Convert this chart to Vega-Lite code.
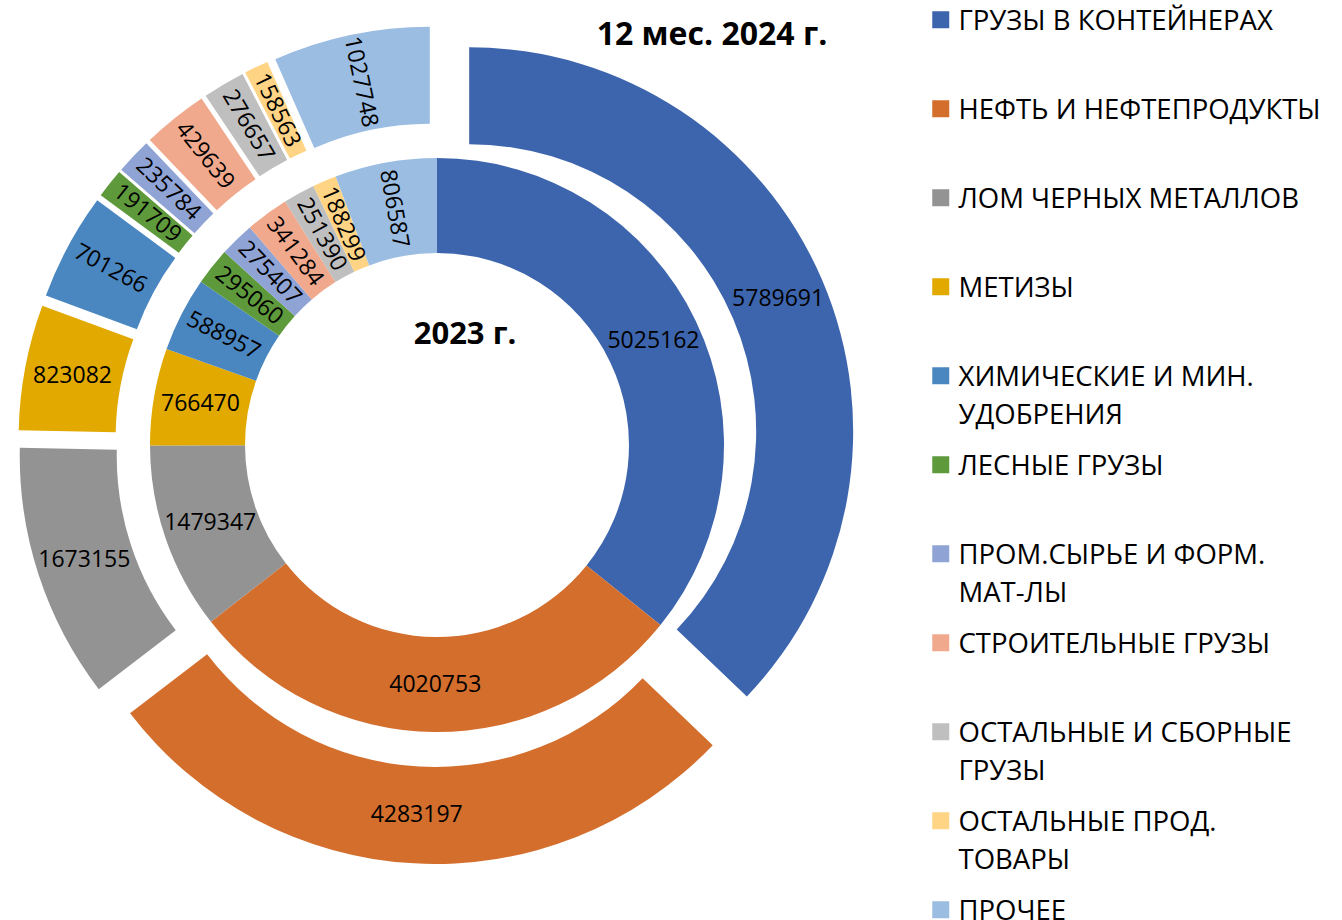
{
  "$schema": "https://vega.github.io/schema/vega-lite/v6.json",
  "width": 874,
  "height": 890,
  "autosize": {"type": "none"},
  "padding": {"left": 0, "top": 0, "right": 468, "bottom": 30},
  "background": "white",
  "config": {
    "view": {"stroke": null},
    "style": {"guide-label": {"lineHeight": 38, "dy": -12}}
  },
  "data": {
    "values": [
      {"cat": "ГРУЗЫ В КОНТЕЙНЕРАХ", "series": "2023", "k": 0, "value": 5025162},
      {"cat": "НЕФТЬ И НЕФТЕПРОДУКТЫ", "series": "2023", "k": 1, "value": 4020753},
      {"cat": "ЛОМ ЧЕРНЫХ МЕТАЛЛОВ", "series": "2023", "k": 2, "value": 1479347},
      {"cat": "МЕТИЗЫ", "series": "2023", "k": 3, "value": 766470},
      {"cat": "ХИМИЧЕСКИЕ И МИН. УДОБРЕНИЯ", "series": "2023", "k": 4, "value": 588957},
      {"cat": "ЛЕСНЫЕ ГРУЗЫ", "series": "2023", "k": 5, "value": 295060},
      {"cat": "ПРОМ.СЫРЬЕ И ФОРМ. МАТ-ЛЫ", "series": "2023", "k": 6, "value": 275407},
      {"cat": "СТРОИТЕЛЬНЫЕ ГРУЗЫ", "series": "2023", "k": 7, "value": 341284},
      {"cat": "ОСТАЛЬНЫЕ И СБОРНЫЕ ГРУЗЫ", "series": "2023", "k": 8, "value": 251390},
      {"cat": "ОСТАЛЬНЫЕ ПРОД. ТОВАРЫ", "series": "2023", "k": 9, "value": 188299},
      {"cat": "ПРОЧЕЕ", "series": "2023", "k": 10, "value": 806587},
      {"cat": "ГРУЗЫ В КОНТЕЙНЕРАХ", "series": "2024", "k": 0, "value": 5789691},
      {"cat": "НЕФТЬ И НЕФТЕПРОДУКТЫ", "series": "2024", "k": 1, "value": 4283197},
      {"cat": "ЛОМ ЧЕРНЫХ МЕТАЛЛОВ", "series": "2024", "k": 2, "value": 1673155},
      {"cat": "МЕТИЗЫ", "series": "2024", "k": 3, "value": 823082},
      {"cat": "ХИМИЧЕСКИЕ И МИН. УДОБРЕНИЯ", "series": "2024", "k": 4, "value": 701266},
      {"cat": "ЛЕСНЫЕ ГРУЗЫ", "series": "2024", "k": 5, "value": 191709},
      {"cat": "ПРОМ.СЫРЬЕ И ФОРМ. МАТ-ЛЫ", "series": "2024", "k": 6, "value": 235784},
      {"cat": "СТРОИТЕЛЬНЫЕ ГРУЗЫ", "series": "2024", "k": 7, "value": 429639},
      {"cat": "ОСТАЛЬНЫЕ И СБОРНЫЕ ГРУЗЫ", "series": "2024", "k": 8, "value": 276657},
      {"cat": "ОСТАЛЬНЫЕ ПРОД. ТОВАРЫ", "series": "2024", "k": 9, "value": 158563},
      {"cat": "ПРОЧЕЕ", "series": "2024", "k": 10, "value": 1027748}
    ]
  },
  "transform": [
    {"window": [{"op": "sum", "field": "value", "as": "cum"}], "groupby": ["series"], "sort": [{"field": "k"}], "frame": [null, 0]},
    {"joinaggregate": [{"op": "sum", "field": "value", "as": "total"}], "groupby": ["series"]},
    {"calculate": "2*PI*(datum.cum-datum.value)/datum.total", "as": "a0"},
    {"calculate": "2*PI*datum.cum/datum.total", "as": "a1"},
    {"calculate": "(datum.a0+datum.a1)/2", "as": "mid"},
    {"calculate": "datum.series=='2024' ? 35*sin(datum.mid) : 0", "as": "ox"},
    {"calculate": "datum.series=='2024' ? -35*cos(datum.mid) : 0", "as": "oy"},
    {"calculate": "datum.mid*180/PI > 285 ? datum.mid*180/PI - 270 : 0", "as": "rot"}
  ],
  "layer": [
    {
      "transform": [{"filter": "datum.series=='2023'"}],
      "mark": {"type": "arc", "radius": 287, "radius2": 192},
      "encoding": {
        "theta": {"field": "a0", "type": "quantitative", "scale": null},
        "theta2": {"field": "a1"},
        "color": {
          "field": "cat", "type": "nominal", "sort": null,
          "scale": {
            "domain": ["ГРУЗЫ В КОНТЕЙНЕРАХ", "НЕФТЬ И НЕФТЕПРОДУКТЫ", "ЛОМ ЧЕРНЫХ МЕТАЛЛОВ", "МЕТИЗЫ", "ХИМИЧЕСКИЕ И МИН. УДОБРЕНИЯ", "ЛЕСНЫЕ ГРУЗЫ", "ПРОМ.СЫРЬЕ И ФОРМ. МАТ-ЛЫ", "СТРОИТЕЛЬНЫЕ ГРУЗЫ", "ОСТАЛЬНЫЕ И СБОРНЫЕ ГРУЗЫ", "ОСТАЛЬНЫЕ ПРОД. ТОВАРЫ", "ПРОЧЕЕ"],
            "range": ["#3D65AD", "#D36E2C", "#939393", "#E2A900", "#4A87C0", "#5E9A3C", "#8FA3D5", "#F1A98D", "#BFBFBF", "#FFD485", "#9BBDE2"]
          },
          "legend": {
            "title": null,
            "orient": "none",
            "legendX": 927,
            "legendY": 6,
            "symbolType": "square",
            "symbolSize": 289,
            "symbolStrokeWidth": 0,
            "labelFont": "Open Sans",
            "labelFontSize": 27.5,
            "labelColor": "#000000",
            "labelLimit": 500,
            "labelOffset": 4,
            "labelBaseline": "top",
            "gridAlign": "all",
            "rowPadding": 21,
            "labelExpr": "datum.label == 'ХИМИЧЕСКИЕ И МИН. УДОБРЕНИЯ' ? ['ХИМИЧЕСКИЕ И МИН.', 'УДОБРЕНИЯ'] : datum.label == 'ПРОМ.СЫРЬЕ И ФОРМ. МАТ-ЛЫ' ? ['ПРОМ.СЫРЬЕ И ФОРМ.', 'МАТ-ЛЫ'] : datum.label == 'ОСТАЛЬНЫЕ И СБОРНЫЕ ГРУЗЫ' ? ['ОСТАЛЬНЫЕ И СБОРНЫЕ', 'ГРУЗЫ'] : datum.label == 'ОСТАЛЬНЫЕ ПРОД. ТОВАРЫ' ? ['ОСТАЛЬНЫЕ ПРОД.', 'ТОВАРЫ'] : datum.label"
          }
        },
        "order": {"field": "k"}
      }
    },
    {
      "transform": [{"filter": "datum.series=='2024'"}],
      "mark": {"type": "arc", "radius": 384, "radius2": 287, "xOffset": {"expr": "datum.ox"}, "yOffset": {"expr": "datum.oy"}},
      "encoding": {
        "theta": {"field": "a0", "type": "quantitative", "scale": null},
        "theta2": {"field": "a1"},
        "color": {"field": "cat", "type": "nominal", "sort": null},
        "order": {"field": "k"}
      }
    },
    {
      "transform": [{"filter": "datum.series=='2023'"}],
      "mark": {"type": "text", "radius": 240, "font": "Open Sans", "fontSize": 23, "color": "#000000"},
      "encoding": {
        "theta": {"field": "mid", "type": "quantitative", "scale": null},
        "angle": {"field": "rot", "type": "quantitative", "scale": null},
        "text": {"field": "value", "type": "quantitative", "format": "d"}
      }
    },
    {
      "transform": [{"filter": "datum.series=='2024'"}],
      "mark": {"type": "text", "radius": 336, "font": "Open Sans", "fontSize": 23, "color": "#000000", "xOffset": {"expr": "datum.ox"}, "yOffset": {"expr": "datum.oy"}},
      "encoding": {
        "theta": {"field": "mid", "type": "quantitative", "scale": null},
        "angle": {"field": "rot", "type": "quantitative", "scale": null},
        "text": {"field": "value", "type": "quantitative", "format": "d"}
      }
    },
    {
      "data": {"values": [{"label": "2023 г."}]},
      "mark": {"type": "text", "font": "Open Sans", "fontSize": 31, "fontWeight": "bold", "color": "#000000", "dx": 28, "dy": -110},
      "encoding": {"text": {"field": "label"}}
    },
    {
      "data": {"values": [{"label": "12 мес. 2024 г."}]},
      "mark": {"type": "text", "font": "Open Sans", "fontSize": 32, "fontWeight": "bold", "color": "#000000", "dx": 275, "dy": -410},
      "encoding": {"text": {"field": "label"}}
    }
  ]
}
